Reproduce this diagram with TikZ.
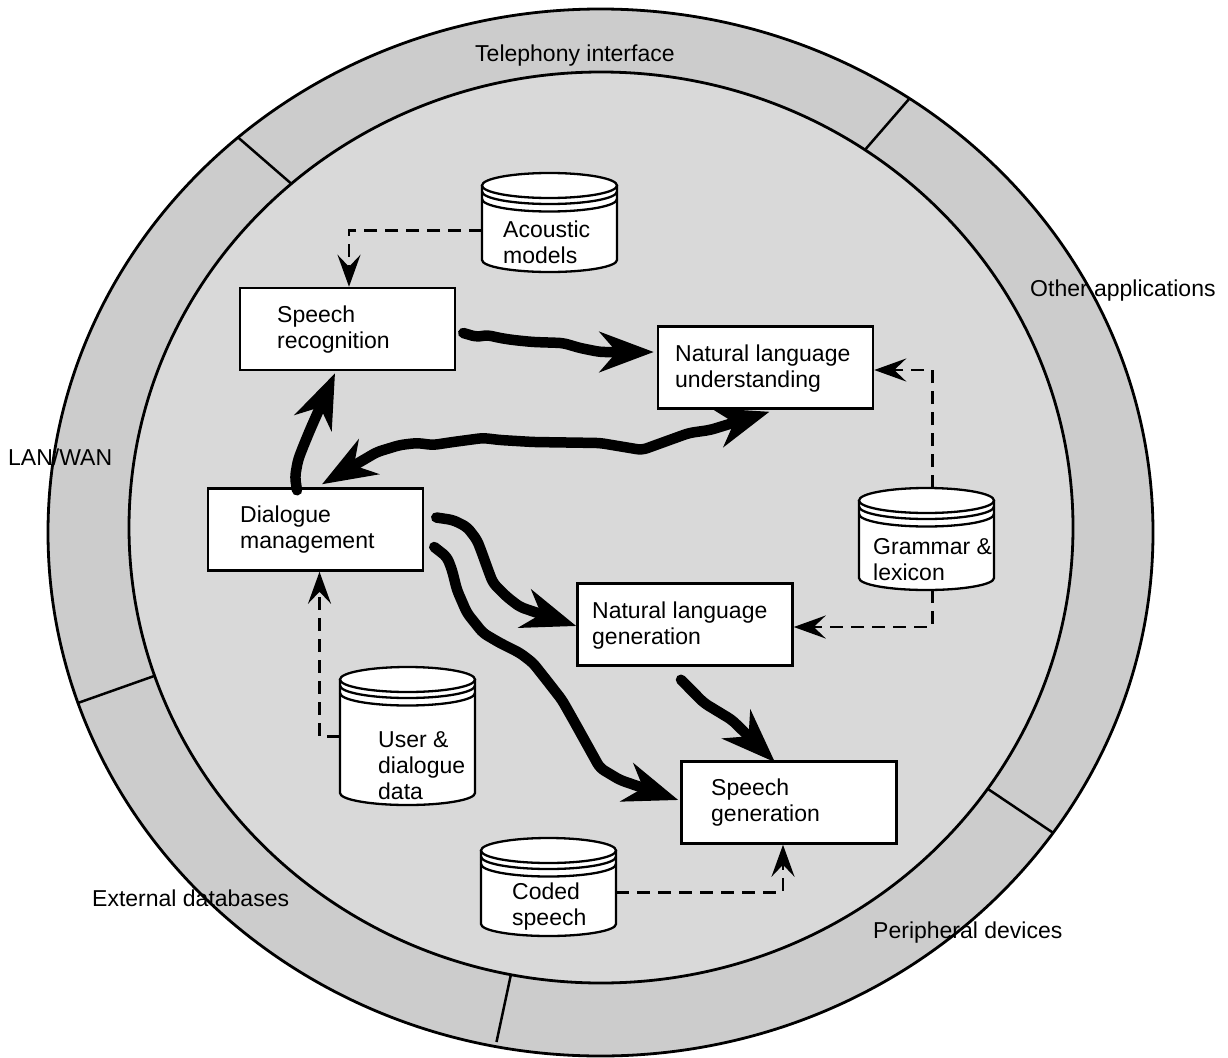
\documentclass[tikz,border=0pt]{standalone}
\usepackage{fontspec}
\setmainfont{Liberation Sans}
\usetikzlibrary{arrows.meta,calc}
\definecolor{ringgray}{HTML}{CCCCCC}
\definecolor{innergray}{HTML}{D9D9D9}
\tikzset{
  box/.style={draw, fill=white, line width=2.5pt, minimum width=215pt, minimum height=82pt, inner sep=0pt},
  txt/.style={align=left, inner sep=0pt, font=\fontsize{23}{26}\selectfont},
  ringtxt/.style={inner sep=0pt, font=\fontsize{23}{26}\selectfont, anchor=base west},
  cylline/.style={line width=2.3pt},
  divline/.style={line width=2.5pt},
  dasharrow/.style={line width=2.7pt, dash pattern=on 13pt off 8pt, -{Stealth[length=32pt,width=23pt,inset=12pt]}},
  bigtip/.style={},
  bigarrow/.style={line width=10.5pt, line cap=round, line join=round, rounded corners=5pt, -{Stealth[length=54pt,width=40pt,inset=17pt]}},
  pics/dbcyl/.style={code={
    \filldraw[cylline, fill=white] (0,12.5) -- (0,#1-12) arc[start angle=180,end angle=360,x radius=67.5pt,y radius=12pt] -- (135,12.5);
    \draw[cylline] (0,18.5) arc[start angle=180,end angle=360,x radius=67.5pt,y radius=12.5pt];
    \draw[cylline] (0,26) arc[start angle=180,end angle=360,x radius=67.5pt,y radius=12.5pt];
    \filldraw[cylline, fill=white] (67.5,12.5) ellipse[x radius=67.5pt,y radius=12.5pt];
    \node[inner sep=0pt, minimum width=135pt, minimum height=#1pt, anchor=north west] (-box) at (0,0) {};
  }}
}
\begin{document}
\begin{tikzpicture}[x=1pt,y=-1pt]
\useasboundingbox (0,0) rectangle (1228,1057);
% rings
\filldraw[fill=ringgray, line width=2.8pt] (600.5,532.5) ellipse[x radius=552.5pt, y radius=523.5pt];
\filldraw[fill=innergray, line width=2.8pt] (601,527.5) ellipse[x radius=472pt, y radius=455.5pt];
\draw[divline] (909.5,98.5) -- (864.9,149.9);
\draw[divline] (238.0,137.4) -- (291.3,183.7);
\draw[divline] (78.1,702.9) -- (154.7,675.8);
\draw[divline] (496.5,1042) -- (510.9,974.6);
\draw[divline] (1053.1,832.8) -- (987.7,788.8);
% ring labels
\node[ringtxt] (tel) at (475,61.5) {Telephony interface};
\node[ringtxt] (oth) at (1030,296) {Other applications};
\node[ringtxt] (lan) at (8,465) {LAN/WAN};
\node[ringtxt] (ext) at (92,906.5) {External databases};
\node[ringtxt] (per) at (873,938) {Peripheral devices};
% boxes
\node[box] (sr) at (347.5,329) {};
\node[box] (dm) at (315.5,529.5) {};
\node[box] (nlu) at (765.5,367.5) {};
\node[box] (nlg) at (685,624.5) {};
\node[box] (sg) at (789,802.5) {};
\node[txt, anchor=west] (srt) at (277,330) {Speech\\recognition};
\node[txt, anchor=west] (dmt) at (240,529.5) {Dialogue\\management};
\node[txt, anchor=west] (nlut) at (675,368.5) {Natural language\\understanding};
\node[txt, anchor=west] (nlgt) at (592,625.5) {Natural language\\generation};
\node[txt, anchor=west] (sgt) at (711,802.5) {Speech\\generation};
% databases
\pic (am) at (482,173) {dbcyl=99};
\pic (gl) at (859,488) {dbcyl=102};
\pic (ud) at (340,667) {dbcyl=138};
\pic (cs) at (481,838) {dbcyl=98};
\node[txt, anchor=west] (amt) at (503,242.5) {Acoustic\\models};
\node[txt, anchor=west] (glt) at (873,560) {Grammar \&\\lexicon};
\node[txt, anchor=west] (udt) at (378,765.5) {User \&\\dialogue\\data};
\node[txt, anchor=west] (cst) at (512,907) {Coded\\speech};
% dashed arrows
\draw[dasharrow] ([shift={(0,7.5)}]am-box.west) -| ([xshift=1.5pt]sr.north);
\draw[dasharrow] ([xshift=5.5pt]gl-box.north) |- ([shift={(0,2.5)}]nlu.east);
\draw[dasharrow] ([xshift=5.5pt]gl-box.south) |- ([shift={(0,2.5)}]nlg.east);
\draw[dasharrow] (ud-box.west) -| ([xshift=4pt]dm.south);
\draw[dasharrow] ([shift={(0,5)}]cs-box.east) -| ([xshift=-6pt]sg.south);
% thick arrows
\draw[bigarrow] ([shift={(7,4)}]sr.east) -- (477,337) -- (487,335) -- (500,338) -- (513,340) -- (533,342) -- (563,343) -- (580,348) -- (600,352) -- ([shift={(-3,-15.5)}]nlu.west);
\draw[bigarrow, {Stealth[length=54pt,width=40pt,inset=17pt]}-{Stealth[length=54pt,width=40pt,inset=17pt]}] ([shift={(6.5,-3)}]dm.north) -- (377,452) -- (400,445) -- (417,443) -- (433,445) -- (453,442) -- (483,438) -- (500,440) -- (533,442) -- (600,443) -- (642,450) -- (689,433) -- (710,430) -- ([shift={(4,2)}]nlu.south);
\draw[bigarrow] ([shift={(-18.5,3)}]dm.north) -- (295,477) -- (298,460) -- (303,447) -- (310,430) -- ([shift={(-12.5,2)}]sr.south);
\draw[bigarrow] ([shift={(12,-12)}]dm.east) -- (453,520) -- (467,527) -- (477,540) -- (482,553) -- (487,567) -- (493,583) -- (507,597) -- (520,607) -- ([shift={(0,1.5)}]nlg.west);
\draw[bigarrow] ([shift={(10,17.5)}]dm.east) -- (447,557) -- (452,570) -- (457,590) -- (467,613) -- (483,633) -- (500,643) -- (520,653) -- (533,663) -- (548,682) -- (562,700) -- (575,723) -- (590,750) -- (600,768) -- (620,780) -- ([shift={(-2,-2.5)}]sg.west);
\draw[bigarrow] ([shift={(-4,13)}]nlg.south) -- (704,703) -- (732,720) -- ([shift={(-14,2)}]sg.north);
\end{tikzpicture}
\end{document}
